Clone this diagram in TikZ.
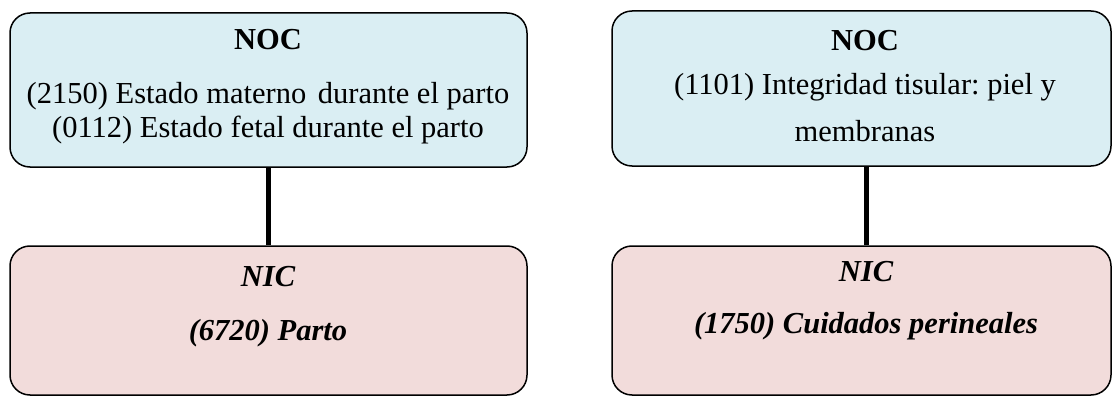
\documentclass[tikz,border=0pt]{standalone}
\usepackage{fontspec}
\setmainfont{Liberation Serif}
\frenchspacing
\definecolor{nocfill}{HTML}{DAEEF3}
\definecolor{nicfill}{HTML}{F2DCDB}
\begin{document}
\begin{tikzpicture}[x=1pt,y=-1pt,
  box/.style={draw=black,line width=1.5pt,rounded corners=20pt,inner sep=0pt},
  nocbox/.style={box,fill=nocfill},
  nicbox/.style={box,fill=nicfill},
  txt/.style={anchor=base,inner sep=0pt,font=\fontsize{30.5}{34}\selectfont},
  head/.style={txt,font=\fontsize{30.5}{34}\selectfont\bfseries},
  itxt/.style={txt,font=\fontsize{30.5}{34}\selectfont\bfseries\itshape},
  link/.style={line width=5pt}]
\useasboundingbox (0,0) rectangle (1112,396);
% boxes
\node[nocbox,minimum width=517pt,minimum height=154pt] (nocL) at (268.5,90) {};
\node[nocbox,minimum width=499pt,minimum height=155pt] (nocR) at (861.5,88.5) {};
\node[nicbox,minimum width=517pt,minimum height=149pt] (nicL) at (268.5,320.5) {};
\node[nicbox,minimum width=499pt,minimum height=149pt] (nicR) at (861.5,320.5) {};
% connectors
\draw[link] (nocL.south) -- (nicL.north);
\draw[link] ([xshift=5pt]nocR.south) -- ([xshift=5pt]nicR.north);
% texts
\node[head] (t1) at (268,50) {NOC};
\node[txt] (t2) at (268,103) {(2150) Estado materno\hspace{4pt} durante el parto};
\node[txt] (t3) at (268,137) {(0112) Estado fetal durante el parto};
\node[head] (t4) at (865,51) {NOC};
\node[txt] (t5) at (865,95) {(1101) Integridad tisular: piel y};
\node[txt] (t6) at (865,141) {membranas};
\node[itxt] (t7) at (268,286) {NIC};
\node[itxt] (t8) at (268,340) {(6720) Parto};
\node[itxt] (t9) at (866,281) {NIC};
\node[itxt] (t10) at (866,333) {(1750) Cuidados perineales};
\end{tikzpicture}
\end{document}
